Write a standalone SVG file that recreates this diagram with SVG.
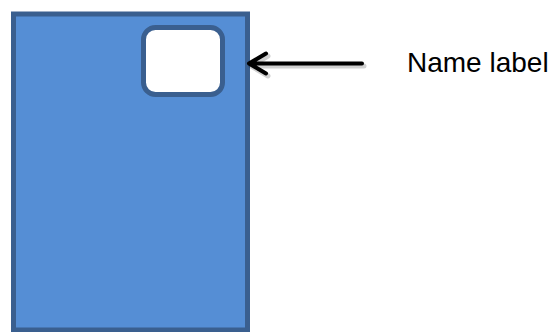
<svg xmlns="http://www.w3.org/2000/svg" width="549" height="332" viewBox="0 0 549 332">
<style>
.box{fill:#558ed5;stroke:#3a5f8f;stroke-width:5}
.label{fill:#ffffff;stroke:#3a5f8f;stroke-width:5}
.arrow{fill:none;stroke:#000;stroke-width:4;stroke-linecap:round;stroke-linejoin:round}
.shadow{fill:none;stroke:#000;stroke-opacity:0.18;stroke-width:5;stroke-linecap:round;stroke-linejoin:round}
.txt{font-family:"Liberation Sans",Arial,sans-serif;font-size:28px;fill:#000}
</style>
<rect width="549" height="332" fill="#fff"/>
<g id="card">
<rect class="box" x="13.5" y="14" width="234" height="316"/>
</g>
<g id="name-label">
<rect class="label" x="143.5" y="27.5" width="79" height="67" rx="12" ry="12"/>
</g>
<g id="connectors">
<path class="shadow" d="M251 66 H364 M268 56 L251 66 L268 76"/>
<path class="arrow" d="M249 63.5 H362 M266 53.5 L249 63.5 L266 73.5"/>
</g>
<g id="caption">
<text class="txt" x="407" y="72">Name label</text>
</g>
</svg>
